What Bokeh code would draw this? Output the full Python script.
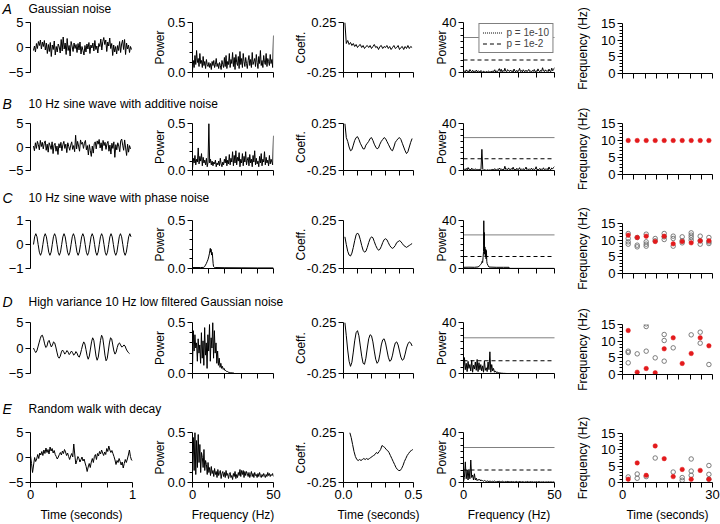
import numpy as np
from bokeh.plotting import figure
from bokeh.models import Range1d, FixedTicker, NumeralTickFormatter, Legend, LegendItem, Label
from bokeh.layouts import column, row
from bokeh.embed import file_html
from bokeh.resources import INLINE
from bokeh.core.validation import silence
from bokeh.core.validation.warnings import MISSING_RENDERERS

silence(MISSING_RENDERERS, True)

FONT = "Liberation Sans"
RED = "#e31a1c"
GREY = "#6e6e6e"

# ------------------------------------------------------------------ data
row_letters = ["A", "B", "C", "D", "E"]
row_titles = ["Gaussian noise",
              "10 Hz sine wave with additive noise",
              "10 Hz sine wave with phase noise",
              "High variance 10 Hz low filtered Gaussian noise",
              "Random walk with decay"]

# column 1: signals (value vs time)
signal_A = [-0.6, 0.3, -0.9, 0.8, -0.2, 1.2, 0.4, 1.5, -0.3, 1.1, 0.2, 1.4, -0.5, 0.9, -1.2, 0.6, -0.8, 1.0, -1.8, 0.5,
            -0.4, 1.3, -1.5, 0.2, -0.9, 0.7, 0.1, -1.1, 1.6, -0.7, 2.1, -0.3, 0.9, -1.4, 1.8, -0.6, 0.4, -1.7, 1.2, 0.3,
            -0.8, 0.9, -0.2, 0.6, -1.0, 0.8, -0.5, 1.1, -1.3, 0.2, -0.6, -1.5, 0.4, -0.9, 0.7, -0.3, 1.0, -1.2, 0.5, -0.1,
            0.9, -0.7, 1.4, -0.4, 0.3, -1.1, 0.8, 0.2, 1.7, -0.5, 1.2, 2.0, 0.6, 1.5, -0.8, 1.1, 0.3, 1.9, -0.2, 0.8,
            -1.6, 0.5, -0.9, 0.2, -1.3, 0.4, -0.6, 1.2, -1.0, 0.7, 1.5, -0.4, 1.6, -1.4, 0.9, -0.3, 0.5, -1.0, 0.2, -0.4]
signal_B = [0.2, -0.8, 0.9, -0.3, 1.2, 0.5, -0.6, 1.4, 0.1, 1.0, -0.4, 0.8, 1.3, -0.7, 0.6, -1.1, 0.9, 0.3, -0.5, 1.1,
            -1.4, 0.4, 0.8, -0.9, 0.2, -1.6, 0.7, -0.2, 1.0, -0.8, 0.5, 1.2, -0.3, 0.6, -1.2, 0.9, 0.1, -0.7, 0.4, 1.1,
            -0.5, 0.3, -1.0, 2.5, -0.4, 1.2, 0.2, -0.9, 1.5, 0.6, 1.0, -0.3, 0.8, 1.4, -0.6, 0.3, -1.7, 0.5, -0.8, -2.0,
            0.2, -1.3, 0.7, 1.1, -0.4, 1.3, 0.6, 1.6, -0.2, 0.9, -0.8, 1.4, 0.3, 1.0, -0.5, 0.7, 1.2, -0.9, 0.4, -1.5,
            0.8, -0.3, 1.1, -2.2, 0.5, -0.6, 0.9, 0.2, -1.0, 1.3, 1.7, 0.4, -0.7, 1.5, -0.2, -1.8, 0.6, -1.1, 0.3, -0.4]
signal_C = [0.0, 0.32, 0.45, 0.32, 0.0, -0.32, -0.45, -0.32, 0.0, 0.32, 0.45, 0.32, 0.0, -0.32, -0.45, -0.32,
            0.0, 0.32, 0.45, 0.32, 0.0, -0.32, -0.45, -0.32, 0.0, 0.32, 0.45, 0.32, 0.0, -0.32, -0.45, -0.32,
            0.0, 0.32, 0.45, 0.32, 0.0, -0.32, -0.45, -0.32, 0.0, 0.32, 0.45, 0.32, 0.0, -0.32, -0.45, -0.32,
            0.0, 0.32, 0.45, 0.32, 0.0, -0.32, -0.45, -0.32, 0.0, 0.32, 0.45, 0.32, 0.0, -0.32, -0.45, -0.32,
            0.0, 0.32, 0.45, 0.32, 0.0, -0.32, -0.45, -0.32, 0.0, 0.32, 0.45, 0.32, 0.0, -0.32, -0.45, -0.32,
            0.0, 0.32, 0.45, 0.32]
signal_D = [0.0, -0.5, -0.9, -0.6, 0.2, 1.0, 1.8, 2.4, 2.5, 1.8, 0.8, 0.1, 0.3, 1.2, 1.5, 0.8, 0.2, 0.6, 1.2, 1.0,
            0.2, -0.8, -1.7, -2.0, -1.6, -0.8, -0.4, -0.7, -1.2, -0.9, -0.5, -0.8, -1.3, -1.0, -0.6, -0.9, -1.4, -1.2,
            -0.7, -1.0, -1.6, -1.8, -1.2, -0.3, 0.6, 1.2, 0.8, -0.3, -1.5, -2.2, -1.6, -0.2, 1.2, 2.0, 1.5, 0.0, -1.6,
            -2.4, -1.8, -0.2, 1.5, 2.5, 2.0, 0.4, -1.4, -2.5, -2.1, -0.6, 1.0, 2.0, 1.8, 0.6, -0.6, -1.2, -0.8, 0.1,
            0.8, 1.0, 0.6, 0.2, 0.3, 0.6, 0.4, -0.2, -0.6, -0.9, -1.1]
signal_E = [0.4, -1.2, -3.0, -1.5, 0.0, -0.8, -0.3, 0.6, -0.2, 0.9, 0.5, 1.2, 0.4, 1.5, 0.8, 1.9, 1.0, 1.6, 0.7, 2.1,
            1.3, 1.8, 0.9, 1.4, 0.6, 0.2, -0.3, 0.1, 0.6, 1.0, 0.5, 1.3, 0.8, 1.6, 1.1, 0.4, 0.9, 0.2, -0.4, 0.3,
            0.8, 0.1, 2.7, 0.5, -1.3, -0.6, 0.2, -0.2, -0.9, -0.4, 0.1, -0.7, -0.3, -1.1, -1.8, -2.8, -1.9, -1.2, -2.0,
            -0.9, -0.2, -1.0, 0.2, 0.6, -0.4, 0.8, 0.3, 1.2, 0.7, 1.5, 0.9, 0.4, 1.1, 0.6, 1.8, 1.2, 2.3, 1.5, 1.0,
            1.4, 0.8, 0.2, -0.5, -1.4, -0.6, -1.0, -0.2, -0.8, -1.5, -0.9, -2.1, -1.2, -0.4, -1.0, -0.3, 0.5, 1.5,
            0.2, -0.5, -0.6]
signal_end = [0.99, 0.98, 0.985, 0.97, 1.0]

# column 2: power spectra (0-50 Hz)
power_A = [0.02, 0.12, 0.05, 0.17, 0.08, 0.22, 0.10, 0.14, 0.06, 0.19, 0.09, 0.12, 0.05, 0.16, 0.07, 0.11, 0.04, 0.13,
           0.08, 0.06, 0.10, 0.05, 0.09, 0.03, 0.11, 0.07, 0.12, 0.05, 0.08, 0.14, 0.06, 0.09, 0.04, 0.10, 0.07, 0.03,
           0.12, 0.08, 0.05, 0.15, 0.06, 0.17, 0.04, 0.11, 0.08, 0.19, 0.05, 0.13, 0.09, 0.20, 0.06, 0.15, 0.03, 0.18,
           0.10, 0.07, 0.16, 0.04, 0.21, 0.08, 0.14, 0.05, 0.19, 0.11, 0.06, 0.15, 0.09, 0.04, 0.12, 0.17, 0.07, 0.13,
           0.05, 0.20, 0.08, 0.11, 0.14, 0.06, 0.18, 0.10, 0.04, 0.16, 0.09, 0.22, 0.07, 0.12, 0.05, 0.17, 0.10, 0.08,
           0.19, 0.06, 0.14, 0.11, 0.07, 0.18, 0.09, 0.13, 0.05, 0.37]
power_B = [0.02, 0.13, 0.08, 0.16, 0.06, 0.12, 0.09, 0.24, 0.07, 0.15, 0.10, 0.18, 0.05, 0.14, 0.08, 0.11, 0.06, 0.13,
           0.04, 0.09, 0.50, 0.08, 0.12, 0.06, 0.10, 0.05, 0.09, 0.07, 0.11, 0.04, 0.08, 0.06, 0.10, 0.05, 0.13, 0.07,
           0.04, 0.09, 0.06, 0.12, 0.08, 0.15, 0.05, 0.11, 0.07, 0.17, 0.06, 0.13, 0.09, 0.20, 0.05, 0.16, 0.08, 0.21,
           0.06, 0.14, 0.10, 0.19, 0.04, 0.12, 0.08, 0.18, 0.05, 0.15, 0.09, 0.20, 0.06, 0.11, 0.14, 0.05, 0.17, 0.08,
           0.12, 0.04, 0.16, 0.09, 0.21, 0.06, 0.13, 0.07, 0.10, 0.04, 0.15, 0.08, 0.18, 0.05, 0.12, 0.09, 0.20, 0.06,
           0.14, 0.08, 0.11, 0.05, 0.16, 0.07, 0.12, 0.09, 0.06, 0.37]
freq_C2 = [0, 5, 7, 7.5, 8, 8.5, 9, 9.5, 10, 10.5, 10.75, 11, 11.25, 11.5, 11.75, 12, 12.25, 12.5, 12.75, 13, 13.5, 14,
           20, 30, 40, 50]
power_C = [0.01, 0.01, 0.012, 0.02, 0.035, 0.05, 0.07, 0.09, 0.12, 0.16, 0.19, 0.21, 0.17, 0.20, 0.14, 0.17, 0.16,
           0.10, 0.05, 0.02, 0.012, 0.01, 0.008, 0.007, 0.006, 0.006]
power_D = [0.05, 0.42, 0.22, 0.38, 0.25, 0.30, 0.12, 0.34, 0.20, 0.28, 0.10, 0.40, 0.15, 0.32, 0.08, 0.45, 0.18, 0.30,
           0.05, 0.38, 0.22, 0.48, 0.12, 0.35, 0.25, 0.50, 0.15, 0.42, 0.20, 0.30, 0.10, 0.22, 0.08, 0.15, 0.06, 0.10,
           0.05, 0.07, 0.04, 0.05, 0.03, 0.03, 0.02, 0.02, 0.015, 0.01, 0.01, 0.008, 0.008, 0.006, 0.006, 0.005]
power_E = [0.20, 0.45, 0.12, 0.50, 0.08, 0.42, 0.15, 0.48, 0.20, 0.38, 0.10, 0.30, 0.25, 0.15, 0.33, 0.12, 0.22, 0.18,
           0.08, 0.20, 0.10, 0.15, 0.07, 0.16, 0.09, 0.12, 0.06, 0.14, 0.08, 0.11, 0.05, 0.13, 0.07, 0.10, 0.12, 0.04,
           0.09, 0.11, 0.06, 0.10, 0.05, 0.12, 0.07, 0.09, 0.04, 0.08, 0.10, 0.05, 0.07, 0.03, 0.09, 0.06, 0.11, 0.04,
           0.08, 0.05, 0.10, 0.07, 0.13, 0.06, 0.12, 0.08, 0.12, 0.05, 0.11, 0.07, 0.11, 0.09, 0.06, 0.10, 0.05, 0.08,
           0.11, 0.06, 0.09, 0.05, 0.10, 0.07, 0.08, 0.05, 0.09, 0.06, 0.10, 0.07, 0.05, 0.08, 0.06, 0.09, 0.07, 0.05,
           0.08, 0.06, 0.10, 0.07, 0.09, 0.06, 0.08, 0.07, 0.09, 0.06]

# column 3: autocorrelation coefficients
coef_A = [0.25, 0.04, 0.07, 0.03, 0.05, 0.02, 0.04, 0.01, 0.03, 0.0, 0.02, 0.03, 0.0, 0.02, -0.01, 0.01, 0.02, 0.0,
          0.02, -0.01, 0.01, 0.03, 0.0, 0.01, -0.02, 0.01, 0.02, -0.01, 0.01, 0.0, 0.02, -0.01, 0.01, -0.02, 0.0,
          0.02, -0.01, 0.0, 0.02, -0.02, 0.0, 0.01, -0.02, 0.01, -0.01, 0.02, -0.01, 0.01, 0.0]
coef_B = [0.25, 0.10, 0.06, 0.0, -0.04, -0.03, 0.02, 0.07, 0.10, 0.11, 0.08, 0.04, 0.01, -0.02, -0.02, 0.02, 0.04,
          0.06, 0.09, 0.10, 0.07, 0.03, 0.0, -0.02, -0.01, 0.03, 0.06, 0.08, 0.10, 0.09, 0.06, 0.03, 0.0, -0.03,
          -0.04, 0.0, 0.05, 0.07, 0.09, 0.10, 0.08, 0.04, 0.0, -0.04, -0.07, -0.05, 0.0, 0.05, 0.09]
coef_C = [0.08, 0.0, -0.07, -0.11, -0.12, -0.09, -0.03, 0.04, 0.10, 0.12, 0.10, 0.05, -0.01, -0.06, -0.08, -0.07,
          -0.03, 0.02, 0.06, 0.08, 0.07, 0.03, -0.01, -0.04, -0.06, -0.05, -0.02, 0.02, 0.05, 0.06, 0.05, 0.02, -0.01,
          -0.03, -0.04, -0.03, -0.01, 0.02, 0.03, 0.04, 0.03, 0.01, -0.01, -0.02, -0.03, -0.02, -0.01, 0.0, 0.01]
coef_D = [0.25, 0.12, -0.02, -0.13, -0.18, -0.14, -0.04, 0.07, 0.15, 0.17, 0.12, 0.02, -0.08, -0.15, -0.16, -0.10,
          0.0, 0.09, 0.13, 0.12, 0.06, -0.03, -0.11, -0.15, -0.13, -0.06, 0.03, 0.08, 0.09, 0.05, -0.02, -0.09, -0.13,
          -0.12, -0.07, 0.0, 0.05, 0.06, 0.03, -0.03, -0.09, -0.12, -0.11, -0.06, 0.0, 0.04, 0.06, 0.05, 0.02]
coef_E = [0.25, 0.20, 0.13, 0.06, 0.01, -0.02, -0.03, -0.02, -0.03, -0.02, -0.01, -0.02, -0.01, -0.02, -0.01, 0.0,
          0.01, 0.02, 0.03, 0.05, 0.04, 0.06, 0.08, 0.12, 0.11, 0.10, 0.08, 0.07, 0.05, 0.02, -0.01, -0.04, -0.07,
          -0.10, -0.12, -0.13, -0.13, -0.11, -0.08, -0.04, -0.01, 0.02, 0.04, 0.06, 0.07, 0.08]
lag_start = [0.01, 0.01, 0.01, 0.01, 0.045]
lag_end = [0.49, 0.49, 0.49, 0.49, 0.495]

# column 4: scaled power with significance thresholds
power4_A = [0.3, 1.2, 0.5, 2.1, 0.8, 1.5, 0.4, 2.4, 1.0, 0.6, 1.8, 0.3, 1.1, 0.7, 2.0, 0.5, 1.3, 0.9, 0.4, 1.6, 0.6,
            0.2, 1.0, 0.5, 0.3, 0.8, 0.4, 1.1, 0.6, 0.3, 0.9, 0.5, 1.4, 0.7, 2.2, 0.4, 1.2, 0.6, 1.9, 3.1, 0.8, 2.6,
            0.5, 1.7, 0.9, 3.4, 1.1, 0.6, 2.3, 1.4, 0.7, 2.0, 0.9, 1.5, 0.4, 2.8, 1.0, 0.6, 1.8, 0.5, 1.2, 3.3, 0.8,
            1.6, 0.5, 2.2, 1.0, 0.7, 1.9, 0.6, 1.3, 2.5, 0.8, 1.1, 0.5, 1.7, 0.9, 2.4, 0.6, 1.4, 0.7, 2.9, 1.2, 0.5,
            1.8, 0.9, 3.8, 1.3, 0.6, 2.1, 1.0, 1.6, 0.7, 2.7, 1.1, 0.8, 3.5, 1.4, 2.2, 4.0]
power4_B = [0.4, 1.0, 0.6, 1.8, 0.5, 2.5, 0.8, 1.3, 0.4, 2.0, 0.7, 1.1, 0.3, 1.5, 0.6, 0.9, 0.4, 1.2, 0.5, 0.8, 18.0,
            0.9, 0.3, 0.7, 0.4, 0.2, 0.6, 0.3, 0.5, 0.2, 0.8, 0.4, 1.0, 0.5, 1.6, 0.7, 0.4, 1.3, 0.6, 2.1, 0.9, 1.5,
            0.5, 1.1, 0.7, 3.6, 0.8, 1.4, 0.6, 2.2, 0.9, 0.5, 1.7, 0.8, 2.8, 0.6, 1.2, 0.4, 1.9, 0.7, 1.0, 2.4, 0.5,
            1.3, 0.8, 1.6, 0.4, 1.1, 2.9, 0.7, 1.5, 0.6, 1.2, 0.9, 2.0, 0.5, 1.4, 0.8, 1.1, 3.2, 0.6, 1.0, 0.7, 1.8,
            0.5, 1.3, 0.9, 2.3, 0.6, 1.2, 0.8, 1.7, 0.5, 3.0, 1.1, 0.7, 2.1, 1.4, 2.6, 3.4]
freq4_C = [0, 3, 6, 8, 8.5, 9, 9.5, 10, 10.25, 10.5, 10.75, 11, 11.15, 11.3, 11.45, 11.6, 11.75, 12, 12.2, 12.4, 12.6,
           12.8, 13, 13.5, 14, 18, 22, 25, 25.5, 50]
power4_C = [1.0, 1.1, 1.0, 1.3, 1.8, 2.5, 3.5, 4.5, 6, 5, 9, 14, 40, 20, 30, 12, 18, 10, 16, 8, 15, 6, 4, 2.5, 1.2,
            1.0, 1.0, 1.0, 0.1, 0.1]
power4_D = [2.0, 12.5, 3.0, 8.0, 1.5, 9.5, 4.0, 7.0, 2.0, 10.5, 1.0, 6.5, 3.5, 9.0, 2.5, 11.0, 1.5, 8.5, 3.0, 7.0, 2.0,
            6.0, 1.0, 10.0, 2.5, 4.5, 1.5, 9.0, 3.0, 17.0, 1.0, 7.0, 2.0, 4.0, 1.0, 2.0, 0.8, 1.2, 0.5, 0.7, 0.3, 0.4,
            0.2, 0.2, 0.1, 0.1, 0.05, 0.05]
power4_E = [0.5, 4.0, 16.5, 3.0, 10.0, 2.0, 10.5, 3.0, 18.0, 4.0, 6.0, 2.0, 7.0, 2.0, 3.5, 1.5, 2.5, 1.8, 2.5, 1.2,
            2.0, 1.5, 1.0, 1.6, 1.2, 0.8, 1.3, 1.0, 0.7, 1.1, 0.9, 0.6, 1.0, 0.8, 1.2, 0.7, 0.5, 0.9, 0.6, 1.1, 0.8,
            0.5, 0.7, 1.0, 0.6, 0.4, 0.8, 0.5, 0.9, 0.6, 0.7, 0.4, 0.6, 0.8, 0.5, 0.7, 0.4, 0.6, 0.9, 0.5, 0.3, 0.6,
            0.8, 0.5, 0.4, 0.7, 0.5, 0.3, 0.6, 0.4, 0.8, 0.5, 0.3, 0.5, 0.7, 0.4, 0.6, 0.3, 0.5, 0.4, 0.6, 0.3, 0.5,
            0.7, 0.4, 0.3, 0.5, 0.4, 0.6, 0.3, 0.4, 0.5, 0.3, 0.6, 0.4, 0.3, 0.5, 0.4, 0.3, 0.5, 0.4]
threshold_1e10 = 28
threshold_1e2 = 10
freq_span = [0, 50]

# column 5: peak frequency per window
window_t = [1.9, 4.9, 7.9, 10.9, 13.9, 16.9, 19.9, 22.9, 25.9, 28.8]
peak_B = [10, 10, 10, 10, 10, 10, 10, 10, 10, 10]
peak_C = [11.5, 10.8, 11.2, 9.6, 11.2, 8.9, 9.6, 9.2, 9.8, 9.8]
peak_D = [13.2, 0.7, 1.8, 0.5, 7.7, 11.0, 3.3, 6.3, 11.0, 8.6]
peak_E = [1.0, 6.0, 2.2, 11.2, 7.3, 1.8, 4.0, 1.0, 3.7, 1.0]
other_C_t = [1.9, 1.9, 1.9, 1.9, 4.9, 4.9, 4.9, 7.9, 7.9, 7.9, 7.9, 10.9, 10.9, 13.9, 13.9, 13.9, 16.9, 16.9, 16.9,
             19.9, 19.9, 19.9, 22.9, 22.9, 22.9, 22.9, 25.9, 25.9, 25.9, 28.8, 28.8, 28.8]
other_C_f = [12.0, 10.5, 9.5, 8.8, 10.8, 8.5, 8.0, 11.8, 9.5, 8.8, 8.2, 10.5, 9.8, 12.0, 11.0, 10.2, 11.2, 10.5, 8.2,
             11.0, 9.8, 9.2, 12.2, 11.5, 10.8, 10.0, 11.2, 9.8, 8.8, 10.8, 9.5, 9.0]
other_D_t = [1.9, 1.9, 1.9, 4.9, 7.9, 7.9, 7.9, 10.9, 13.9, 13.9, 13.9, 16.9, 22.9, 25.9, 25.9, 28.8]
other_D_f = [7.0, 6.6, 3.5, 6.2, 15.2, 14.4, 7.0, 5.0, 12.0, 10.2, 4.0, 8.0, 11.9, 12.7, 9.4, 3.0]
other_E_t = [1.9, 4.9, 4.9, 7.9, 10.9, 16.9, 19.9, 19.9, 22.9, 22.9, 22.9, 28.8, 28.8, 28.8]
other_E_f = [1.7, 2.6, 1.3, 1.8, 7.5, 3.2, 1.5, 0.7, 7.2, 3.5, 2.2, 5.2, 2.5, 1.0]

signals = [signal_A, signal_B, signal_C, signal_D, signal_E]
powers = [power_A, power_B, power_C, power_D, power_E]
coefs = [coef_A, coef_B, coef_C, coef_D, coef_E]
powers4 = [power4_A, power4_B, power4_C, power4_D, power4_E]
peaks = [None, peak_B, peak_C, peak_D, peak_E]
others = [None, None, (other_C_t, other_C_f), (other_D_t, other_D_f), (other_E_t, other_E_f)]

# ------------------------------------------------------------------ layout geometry (px)
COL_W = [150, 140, 142, 141, 147]
COL_L = [30, 33, 41, 27, 44]
COL_FW = [102, 90, 82, 95, 95]
TITLE_H = 16
ROW_H = [79, 78, 88, 91, 108]
TOPS = [[6, 6, 6, 6], [8, 12, 12, 12], [12, 11, 14, 15], [13, 13, 13, 12], [13, 14, 14, 16]]
FH = [[50, 51, 51, 52], [51, 52, 56, 53], [51, 52, 53, 53], [51, 53, 52, 53], [53, 52, 53, 52]]
TOP5 = [23, 28, 34, 31, 33]
FH5 = [50, 51, 50, 50, 50]
LEFT_W = sum(COL_W[:4])

X_SPECS = [
    dict(major=[0, 1], minor=[0.25, 0.5, 0.75], fmt=None, label="Time (seconds)"),
    dict(major=[0, 50], minor=[10, 20, 30, 40], fmt=None, label="Frequency (Hz)"),
    dict(major=[0, 0.5], minor=[0.1, 0.2, 0.3, 0.4], fmt="0.0", label="Time (seconds)"),
    dict(major=[0, 50], minor=[10, 20, 30, 40], fmt=None, label="Frequency (Hz)"),
    dict(major=[0, 30], minor=[3.75, 7.5, 11.25, 15, 18.75, 22.5, 26.25], fmt=None, label="Time (seconds)"),
]


def style_axis(ax):
    ax.axis_line_color = "black"
    ax.axis_line_width = 1
    ax.major_tick_line_color = "black"
    ax.minor_tick_line_color = "black"
    ax.major_tick_in = 0
    ax.major_tick_out = 5
    ax.minor_tick_in = 0
    ax.minor_tick_out = 3
    ax.major_label_text_font = FONT
    ax.major_label_text_font_size = "13px"
    ax.major_label_text_color = "black"
    ax.major_label_standoff = 2
    ax.axis_label_text_font = FONT
    ax.axis_label_text_font_size = "12px"
    ax.axis_label_text_font_style = "normal"
    ax.axis_label_text_color = "black"


def make_fig(r, c, xr, yr, height, top, fh):
    w = COL_W[c]
    p = figure(width=w, height=height, x_range=Range1d(*xr), y_range=Range1d(*yr),
               output_backend="svg", toolbar_location=None, tools="",
               min_border_left=COL_L[c], min_border_right=w - COL_L[c] - COL_FW[c],
               min_border_top=top, min_border_bottom=height - top - fh)
    p.outline_line_color = None
    p.grid.visible = False
    for ax in p.axis:
        style_axis(ax)
    xs = X_SPECS[c]
    xa = p.xaxis[0]
    if r == 4:
        xa.ticker = FixedTicker(ticks=xs["major"], minor_ticks=xs["minor"])
        if xs["fmt"]:
            xa.formatter = NumeralTickFormatter(format=xs["fmt"])
        xa.axis_label = xs["label"]
        xa.axis_label_standoff = 6
    else:
        xa.ticker = FixedTicker(ticks=[], minor_ticks=sorted(xs["major"] + xs["minor"]))
    xa.minor_tick_out = 5
    return p


def title_fig(letter, text):
    p = figure(width=LEFT_W, height=TITLE_H, x_range=Range1d(0, LEFT_W), y_range=Range1d(0, TITLE_H),
               output_backend="svg", toolbar_location=None, tools="",
               x_axis_location=None, y_axis_location=None, min_border=0)
    p.outline_line_color = None
    p.grid.visible = False
    p.add_layout(Label(x=2, y=TITLE_H / 2, text=letter, text_font=FONT, text_font_size="14px",
                       text_font_style="italic", text_baseline="middle", text_color="black"))
    p.add_layout(Label(x=28, y=TITLE_H / 2, text=text, text_font=FONT, text_font_size="12px",
                       text_baseline="middle", text_color="black"))
    return p


blocks = []
for r in range(5):
    H = ROW_H[r]
    figs = []

    # column 1: signal
    xr1 = (0, 1) if r == 4 else (-0.03, 1.0)
    yr1 = (-1, 1) if r == 2 else (-5, 5)
    p1 = make_fig(r, 0, xr1, yr1, H, TOPS[r][0], FH[r][0])
    if r != 4:
        p1.xaxis.visible = False
    p1.yaxis.ticker = FixedTicker(ticks=[-1, 0, 1] if r == 2 else [-5, 0, 5], minor_ticks=[])
    sig = signals[r]
    p1.line(np.linspace(0, signal_end[r], len(sig)), sig, line_color="black", line_width=1)
    figs.append(p1)

    # column 2: power spectrum
    p2 = make_fig(r, 1, (0, 50), (0, 0.5), H, TOPS[r][1], FH[r][1])
    ya = p2.yaxis[0]
    ya.ticker = FixedTicker(ticks=[0, 0.5], minor_ticks=[0.1, 0.2, 0.3, 0.4])
    ya.formatter = NumeralTickFormatter(format="0.0")
    ya.axis_label = "Power"
    ya.axis_label_standoff = -3
    pw = powers[r]
    if r == 2:
        fx = freq_C2
    elif r == 3:
        fx = np.arange(len(pw)) * 0.5
    else:
        fx = np.linspace(0, 50, len(pw))
    p2.line(fx, pw, line_color="black", line_width=1)
    figs.append(p2)

    # column 3: autocorrelation
    p3 = make_fig(r, 2, (0, 0.5), (-0.25, 0.25), H, TOPS[r][2], FH[r][2])
    ya = p3.yaxis[0]
    ya.ticker = FixedTicker(ticks=[-0.25, 0.25], minor_ticks=[])
    ya.formatter = NumeralTickFormatter(format="0.00")
    ya.axis_label = "Coeff."
    ya.axis_label_standoff = -4
    cf = coefs[r]
    p3.line(np.linspace(lag_start[r], lag_end[r], len(cf)), cf, line_color="black", line_width=1)
    figs.append(p3)

    # column 4: scaled power + thresholds
    p4 = make_fig(r, 3, (0, 50), (0, 40), H, TOPS[r][3], FH[r][3])
    ya = p4.yaxis[0]
    ya.ticker = FixedTicker(ticks=[0, 40], minor_ticks=[5, 10, 15, 20, 25, 30, 35])
    ya.axis_label = "Power"
    ya.axis_label_standoff = -10
    r_dot = p4.line(freq_span, [threshold_1e10, threshold_1e10], line_color="black", line_width=1, line_dash="1 1")
    r_dash = p4.line(freq_span, [threshold_1e2, threshold_1e2], line_color="black", line_width=1, line_dash="4 3")
    p4v = powers4[r]
    if r == 2:
        f4 = freq4_C
    elif r == 3:
        f4 = np.arange(len(p4v)) * 0.5
    else:
        f4 = np.linspace(0, 50, len(p4v))
    p4.line(f4, p4v, line_color="black", line_width=1)
    if r == 0:
        leg = Legend(items=[LegendItem(label="p = 1e-10", renderers=[r_dot]),
                            LegendItem(label="p = 1e-2", renderers=[r_dash])],
                     location="top_right", border_line_color="black", border_line_width=1,
                     background_fill_alpha=1, label_text_font=FONT, label_text_font_size="10px",
                     glyph_width=20, glyph_height=11, label_height=11, label_standoff=4,
                     padding=3, spacing=0, margin=1)
        p4.add_layout(leg)
    figs.append(p4)

    # column 5: peak frequencies (tall figure that also covers the title band)
    p5 = make_fig(r, 4, (0, 30), (0, 15), TITLE_H + H, TOP5[r], FH5[r])
    ya = p5.yaxis[0]
    ya.ticker = FixedTicker(ticks=[0, 5, 10, 15], minor_ticks=[1, 2, 3, 4, 6, 7, 8, 9, 11, 12, 13, 14])
    ya.axis_label = "Frequency (Hz)"
    ya.axis_label_standoff = 8
    if others[r] is not None:
        p5.scatter(others[r][0], others[r][1], marker="circle", size=4.5, fill_color=None,
                   line_color=GREY, line_width=0.9)
    if peaks[r] is not None:
        p5.scatter(window_t, peaks[r], marker="circle", size=4.5, fill_color=RED, line_color=RED,
                   line_width=0.5)

    left = column(title_fig(row_letters[r], row_titles[r]), row(*figs))
    blocks.append(row(left, p5))

layout = column(*blocks)
html = file_html(layout, INLINE, title="Spectral analysis")
open("out.html", "w").write(html)
